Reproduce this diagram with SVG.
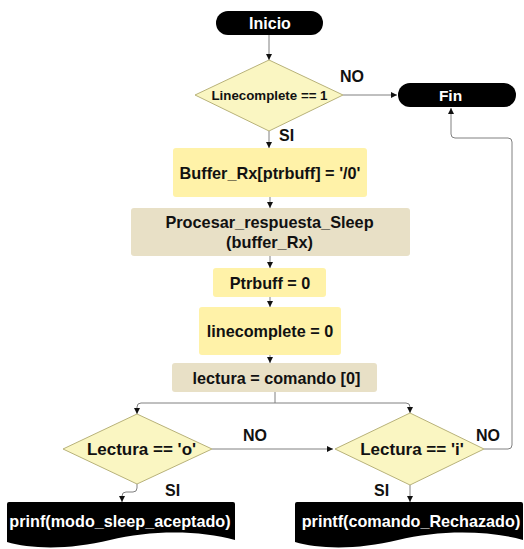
<svg xmlns="http://www.w3.org/2000/svg" width="524" height="549" viewBox="0 0 524 549">
  <defs>
    <marker id="arr" viewBox="0 0 6 6" refX="6" refY="3" markerWidth="6" markerHeight="6" orient="auto" markerUnits="userSpaceOnUse">
      <path d="M0,0 L6,3 L0,6 Z" fill="#111"/>
    </marker>
    <style>
      .t { font-family: "Liberation Sans", Arial, sans-serif; font-weight: bold; text-anchor: middle; dominant-baseline: central; fill: #111; }
      .w { fill: #fff; }
      .term { fill: #000; }
      .proc { fill: #fff2a8; }
      .io { fill: #e8e0c6; }
      .dec { fill: #faf6c2; stroke: #b8b27a; stroke-width: 1; }
      .doc { fill: #000; }
      .c { fill: none; stroke: #808080; stroke-width: 1; }
      .ca { fill: none; stroke: #808080; stroke-width: 1; marker-end: url(#arr); }
      .lbl { font-family: "Liberation Sans", Arial, sans-serif; font-weight: bold; font-size: 16px; fill: #111; }
    </style>
  </defs>

  <g id="connectors">
    <path class="ca" d="M269,35 L269,60"/>
    <path class="ca" d="M343,95 L397,95"/>
    <path class="ca" d="M269,131 L269,148"/>
    <path class="ca" d="M270,197 L270,208"/>
    <path class="ca" d="M270,256 L270,268"/>
    <path class="ca" d="M270,297 L270,307"/>
    <path class="ca" d="M270,355 L270,363"/>
    <path class="c" d="M275,392 L275,403"/>
    <path class="ca" d="M275,403 L141,403 Q137,403 137,407 L137,414"/>
    <path class="ca" d="M275,403 L406,403 Q410,403 410,407 L410,413"/>
    <path class="ca" d="M212,449 L333,449"/>
    <path class="ca" d="M484,449 L508,449 Q512,449 512,445 L512,142 Q512,138 508,138 L455,138 Q451,138 451,134 L451,108"/>
    <path class="ca" d="M137,484 L137,488 Q137,492 133,492 L126,492 Q122,492 122,496 L122,502"/>
    <path class="ca" d="M410,485 L410,502"/>
  </g>

  <g id="inicio">
    <rect class="term" x="216" y="11" width="107" height="24" rx="12"/>
    <text class="t w" x="270" y="23" font-size="16">Inicio</text>
  </g>

  <g id="dec-linecomplete">
    <polygon class="dec" points="269,60 343,95 269,131 195,95"/>
    <text class="t" x="269.5" y="95" font-size="13.3">Linecomplete == 1</text>
  </g>
  <text class="lbl" x="340" y="82">NO</text>
  <text class="lbl" x="279" y="141">SI</text>

  <g id="fin">
    <rect class="term" x="398" y="83" width="118" height="24" rx="12"/>
    <text class="t w" x="450.5" y="95" font-size="15.5">Fin</text>
  </g>

  <g id="buffer">
    <rect class="proc" x="173" y="148" width="194" height="49" rx="3"/>
    <text class="t" x="270" y="172.5" font-size="16.3">Buffer_Rx[ptrbuff] = '/0'</text>
  </g>

  <g id="procesar">
    <rect class="io" x="131" y="208" width="279" height="48" rx="3"/>
    <text class="t" x="269.5" y="222" font-size="16.3">Procesar_respuesta_Sleep</text>
    <text class="t" x="269.5" y="242" font-size="16.3">(buffer_Rx)</text>
  </g>

  <g id="ptrbuff">
    <rect class="proc" x="213" y="268" width="113" height="29" rx="3"/>
    <text class="t" x="270" y="282.5" font-size="16.2">Ptrbuff = 0</text>
  </g>

  <g id="linecomplete">
    <rect class="proc" x="199" y="307" width="142" height="48" rx="3"/>
    <text class="t" x="270" y="331" font-size="16.2">linecomplete = 0</text>
  </g>

  <g id="lectura">
    <rect class="io" x="172" y="363" width="205" height="29" rx="3"/>
    <text class="t" x="276.5" y="377.5" font-size="16.2">lectura = comando [0]</text>
  </g>

  <g id="dec-o">
    <polygon class="dec" points="137,414 212,449 137,484 63,449"/>
    <text class="t" x="141.5" y="449" font-size="17">Lectura == 'o'</text>
  </g>
  <text class="lbl" x="243" y="441">NO</text>
  <text class="lbl" x="165" y="496">SI</text>

  <g id="dec-i">
    <polygon class="dec" points="410,413 484,449 410,485 335,449"/>
    <text class="t" x="412" y="449" font-size="17">Lectura == 'i'</text>
  </g>
  <text class="lbl" x="476" y="441">NO</text>
  <text class="lbl" x="374" y="496">SI</text>

  <g id="print-aceptado">
    <path class="doc" d="M9,502 L233,502 Q235,502 235,504 L235,540 C200,530 150,530 110,540 C70,550 30,549 7,542 L7,504 Q7,502 9,502 Z"/>
    <text class="t w" x="120" y="521" font-size="16.2">prinf(modo_sleep_aceptado)</text>
  </g>

  <g id="print-rechazado">
    <path class="doc" d="M297,502 L521,502 Q523,502 523,504 L523,540 C488,530 438,530 398,540 C358,550 318,549 295,542 L295,504 Q295,502 297,502 Z"/>
    <text class="t w" x="411" y="521" font-size="16.2">printf(comando_Rechazado)</text>
  </g>
</svg>
